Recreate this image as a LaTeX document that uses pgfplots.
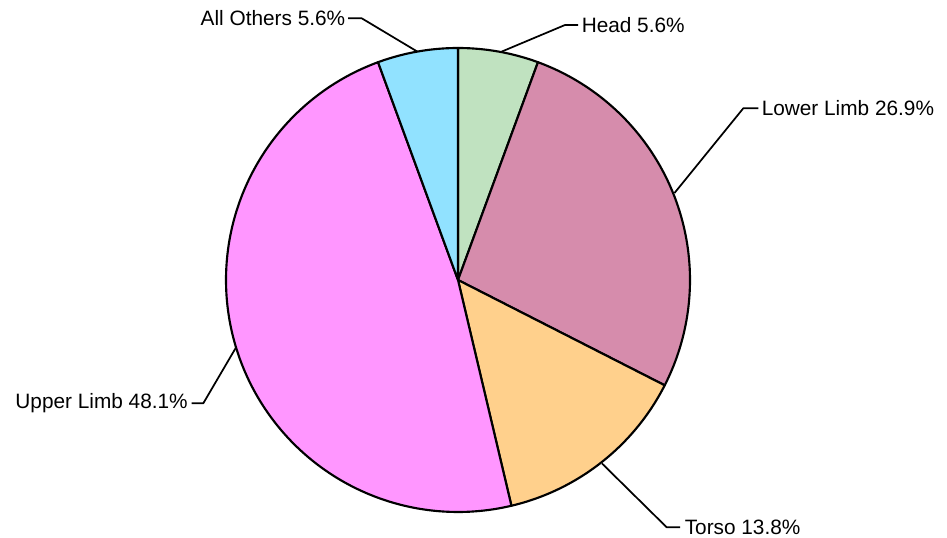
\documentclass[border=0pt]{standalone}
\usepackage{pgfplots}
\pgfplotsset{compat=1.18}
\usepackage{fontspec}
\setmainfont{Liberation Sans}
\definecolor{cHead}{RGB}{192,226,192}
\definecolor{cLower}{RGB}{214,140,172}
\definecolor{cTorso}{RGB}{255,208,140}
\definecolor{cUpper}{RGB}{255,150,255}
\definecolor{cOther}{RGB}{145,226,255}
% data (percent)
\def\vHead{5.6}
\def\vLower{26.9}
\def\vTorso{13.8}
\def\vUpper{48.1}
\def\vOther{5.6}
\begin{document}
\begin{tikzpicture}
\pgfmathsetmacro{\aA}{90}
\pgfmathsetmacro{\aB}{\aA-3.6*\vHead}
\pgfmathsetmacro{\aC}{\aB-3.6*\vLower}
\pgfmathsetmacro{\aD}{\aC-3.6*\vTorso}
\pgfmathsetmacro{\aE}{\aD-3.6*\vUpper}
\pgfmathsetmacro{\aF}{\aE-3.6*\vOther}
\begin{axis}[
  x=0.75pt, y=0.75pt,
  xmin=0, xmax=947, ymin=0, ymax=538,
  hide axis, clip=false, scale only axis,
  every axis plot/.append style={draw=black, line width=1.6pt, line join=round},
]
\path (axis cs:0,0) rectangle (axis cs:947,538);
\addplot[fill=cHead, domain=\aB:\aA, samples=40] ({458+232*cos(x)},{258+232*sin(x)}) -- (axis cs:458,258) -- cycle;
\addplot[fill=cLower, domain=\aC:\aB, samples=120] ({458+232*cos(x)},{258+232*sin(x)}) -- (axis cs:458,258) -- cycle;
\addplot[fill=cTorso, domain=\aD:\aC, samples=80] ({458+232*cos(x)},{258+232*sin(x)}) -- (axis cs:458,258) -- cycle;
\addplot[fill=cUpper, domain=\aE:\aD, samples=200] ({458+232*cos(x)},{258+232*sin(x)}) -- (axis cs:458,258) -- cycle;
\addplot[fill=cOther, domain=\aF:\aE, samples=40] ({458+232*cos(x)},{258+232*sin(x)}) -- (axis cs:458,258) -- cycle;
% leader lines
\addplot[line width=1.3pt, no marks] coordinates {(501.5,486.3) (565,513) (578,513)};
\addplot[line width=1.3pt, no marks] coordinates {(674.5,345) (743.3,429.7) (758.3,429.7)};
\addplot[line width=1.3pt, no marks] coordinates {(602,74.5) (666.7,10.7) (680,10.7)};
\addplot[line width=1.3pt, no marks] coordinates {(236,190.5) (203.3,134.7) (191.5,134.7)};
\addplot[line width=1.3pt, no marks] coordinates {(417.5,486.3) (361.7,519.7) (348,519.7)};
\begin{scope}[every node/.style={font=\fontsize{15.6}{18}\selectfont, inner sep=0pt}]
\node[anchor=west] at (axis cs:581.5,513) {Head 5.6\%};
\node[anchor=west] at (axis cs:761.5,429.7) {Lower Limb 26.9\%};
\node[anchor=west] at (axis cs:684.5,10.7) {Torso 13.8\%};
\node[anchor=east] at (axis cs:188,134.7) {Upper Limb 48.1\%};
\node[anchor=east] at (axis cs:345.5,519.7) {All Others 5.6\%};
\end{scope}
\end{axis}
\end{tikzpicture}
\end{document}
